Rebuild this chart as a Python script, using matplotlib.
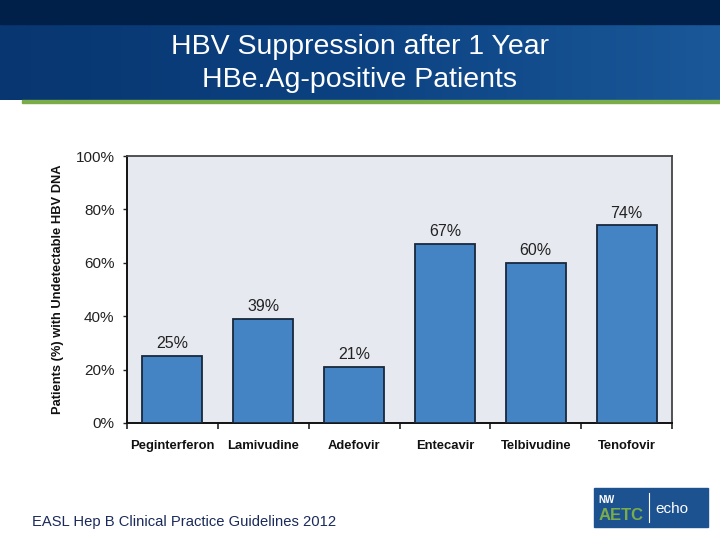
import matplotlib
matplotlib.use("Agg")
import matplotlib.pyplot as plt
import numpy as np
from matplotlib.patches import Rectangle
from matplotlib.colors import LinearSegmentedColormap

plt.rcParams['font.family'] = ['Liberation Sans', 'DejaVu Sans']

# data
drugs = ["Peginterferon", "Lamivudine", "Adefovir", "Entecavir", "Telbivudine", "Tenofovir"]
pct = [25, 39, 21, 67, 60, 74]
yticks = [0, 20, 40, 60, 80, 100]

title_lines = ["HBV Suppression after 1 Year", "HBe.Ag-positive Patients"]
ylabel = "Patients (%) with Undetectable HBV DNA"
source = "EASL Hep B Clinical Practice Guidelines 2012"

fig = plt.figure(figsize=(7.2, 5.4), dpi=100)
fig.patch.set_facecolor("white")

# header band
hdr = fig.add_axes([0, 1 - 100 / 540, 1, 100 / 540])
hdr.set_axis_off()
grad = np.linspace(0, 1, 256).reshape(1, -1)
cm = LinearSegmentedColormap.from_list("hdr", ["#083670", "#0c4282", "#1a5899"])
hdr.imshow(grad, aspect="auto", cmap=cm, extent=[0, 1, 0, 1])
hdr.add_patch(Rectangle((0, 76 / 100), 1, 24 / 100, color="#00204a", transform=hdr.transAxes))
hdr.set_xlim(0, 1)
hdr.set_ylim(0, 1)
# green line
fig.add_artist(Rectangle((22 / 720, 1 - 103 / 540), 1, 3 / 540, color="#7aac4a",
                         transform=fig.transFigure))

fig.text(0.5, 1 - 47 / 540, title_lines[0], color="white", fontsize=20.5, ha="center", va="center")
fig.text(0.5, 1 - 80 / 540, title_lines[1], color="white", fontsize=20.5, ha="center", va="center")

# chart
ax = fig.add_axes([127 / 720, 1 - 423 / 540, 545 / 720, 267 / 540])
ax.set_facecolor("#e6e9f0")
x = np.arange(len(drugs))
ax.bar(x, pct, width=0.66, color="#4484c4", edgecolor="#18283c", linewidth=1.3, zorder=3)
for xi, v in zip(x, pct):
    ax.text(xi, v + 1.8, f"{v}%", ha="center", va="bottom", fontsize=11.5, color="#222222")

ax.set_xlim(-0.5, len(drugs) - 0.5)
ax.set_ylim(0, 100)
ax.set_yticks(yticks)
ax.set_yticklabels([f"{t}%" for t in yticks], fontsize=11, color="#222222")
ax.set_xticks(x)
ax.set_xticklabels(drugs, fontsize=9.4, fontweight="bold", color="#111111")
ax.set_xticks(np.arange(len(drugs) + 1) - 0.5, minor=True)
ax.tick_params(axis="x", which="major", length=0, pad=12)
ax.tick_params(axis="x", which="minor", length=4, width=1.2, color="#222222")
ax.tick_params(axis="y", length=3, width=1.0, color="#222222", pad=6)
ax.set_ylabel(ylabel, fontsize=9.3, fontweight="bold", color="#111111", labelpad=8)
for s in ["left", "bottom"]:
    ax.spines[s].set_color("#111111")
    ax.spines[s].set_linewidth(1.4)
for s in ["top", "right"]:
    ax.spines[s].set_color("#444444")
    ax.spines[s].set_linewidth(1.3)

# footer
fig.text(32 / 720, 1 - 522 / 540, source, fontsize=10.6, color="#1a2a5a", ha="left", va="center")

# logo
logo_x, logo_y, logo_w, logo_h = 594 / 720, 1 - 527 / 540, 114 / 720, 39 / 540
fig.add_artist(Rectangle((logo_x, logo_y), logo_w, logo_h, color="#1d5290",
                         transform=fig.transFigure))
fig.text(logo_x + 0.006, logo_y + logo_h * 0.68, "NW", color="white", fontsize=7,
         fontweight="bold", va="center", ha="left")
fig.text(logo_x + 0.006, logo_y + logo_h * 0.3, "AETC", color="#7aac4a", fontsize=12,
         fontweight="bold", va="center", ha="left")
fig.add_artist(plt.Line2D([logo_x + 0.076, logo_x + 0.076], [logo_y + 0.01, logo_y + logo_h - 0.01],
                          color="white", linewidth=0.8, transform=fig.transFigure))
fig.text(logo_x + 0.085, logo_y + logo_h * 0.45, "echo", color="white", fontsize=11,
         va="center", ha="left")

fig.savefig("out.png", dpi=100)
